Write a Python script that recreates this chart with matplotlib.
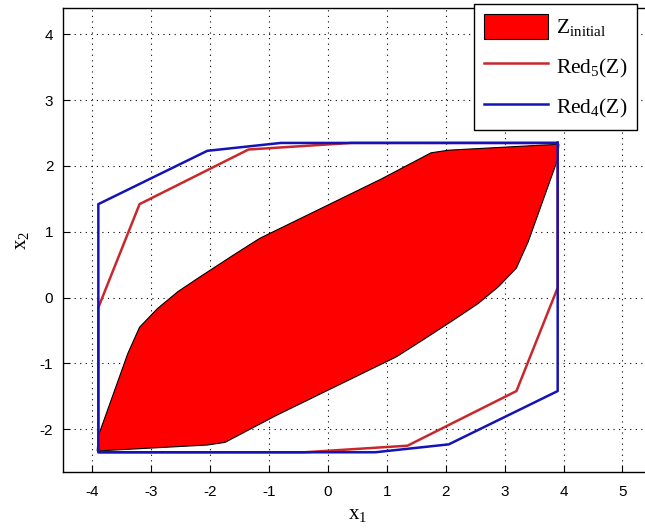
import matplotlib
matplotlib.use("Agg")
import matplotlib.pyplot as plt
from matplotlib.patches import Polygon, Patch
from matplotlib.lines import Line2D
import numpy as np

plt.rcParams['mathtext.fontset'] = 'custom'
plt.rcParams['mathtext.rm'] = 'Liberation Serif'
plt.rcParams['mathtext.it'] = 'Liberation Serif:italic'
plt.rcParams['axes.unicode_minus'] = False

# half of the initial zonotope (the rest is the mirror image through the origin)
z_half_x = [3.92, 2.05, 1.75, 0.9, -1.16, -1.6, -2.2, -2.55, -2.9, -3.2, -3.4, -3.9]
z_half_y = [2.33, 2.24, 2.2, 1.8, 0.9, 0.65, 0.3, 0.09, -0.17, -0.45, -0.85, -2.1]

# Red_5(Z) outline
red5_x = [3.9, 3.9, 3.2, 1.35, -0.4, -3.9, -3.9, -3.2, -1.35, 0.4, 3.9]
red5_y = [2.35, 0.15, -1.42, -2.25, -2.35, -2.35, -0.15, 1.42, 2.25, 2.35, 2.35]

# Red_4(Z) outline
red4_x = [3.9, 3.9, 2.05, 0.8, -3.9, -3.9, -2.05, -0.8, 3.9]
red4_y = [2.35, -1.42, -2.23, -2.35, -2.35, 1.42, 2.23, 2.35, 2.35]

fig = plt.figure(figsize=(6.45, 5.3), dpi=100)
ax = fig.add_axes([0.0977, 0.1094, 0.913, 0.8755])

zx = np.concatenate([z_half_x, -np.array(z_half_x)])
zy = np.concatenate([z_half_y, -np.array(z_half_y)])
ax.add_patch(Polygon(np.column_stack([zx, zy]), closed=True, facecolor='#ff0000',
                     edgecolor='black', linewidth=0.8, zorder=2))
ax.plot(red5_x, red5_y, color='#c8282d', linewidth=1.8, zorder=3)
ax.plot(red4_x, red4_y, color='#1414b4', linewidth=1.8, zorder=4)

ax.set_xlim(-4.5, 5.5)
ax.set_ylim(-2.65, 4.4)
ax.set_xticks(range(-4, 6))
ax.set_yticks(range(-2, 5))
ax.grid(True, linestyle=(0, (1, 4)), color='black', linewidth=0.8)
ax.set_axisbelow(True)
ax.tick_params(direction='in', length=5, labelsize=11, pad=7, top=False, right=False)
ax.tick_params(axis='x', pad=9)
for lab in ax.get_xticklabels() + ax.get_yticklabels():
    lab.set_family('Liberation Sans')
for s in ax.spines.values():
    s.set_linewidth(1.0)

ax.set_xlabel(r'$\mathrm{x}_1$', fontsize=15, labelpad=4)
ax.set_ylabel(r'$\mathrm{x}_2$', fontsize=15, labelpad=6)

handles = [Patch(facecolor='#ff0000', edgecolor='black', linewidth=0.8),
           Line2D([], [], color='#c8282d', linewidth=1.8),
           Line2D([], [], color='#1414b4', linewidth=1.8)]
labels = [r'$\mathrm{Z}_{\mathrm{initial}}$', r'$\mathrm{Red}_5(\mathrm{Z})$', r'$\mathrm{Red}_4(\mathrm{Z})$']
leg = ax.legend(handles, labels, loc='upper left', bbox_to_anchor=(474 / 645, 1 - 4 / 530),
                bbox_transform=fig.transFigure, fontsize=15.5, fancybox=False,
                edgecolor='black', framealpha=1, handlelength=3.0,
                handleheight=1.4, labelspacing=0.69, handletextpad=0.35, borderpad=0.45,
                borderaxespad=0)
leg.get_frame().set_linewidth(1.0)

fig.savefig('out.png', dpi=100)
